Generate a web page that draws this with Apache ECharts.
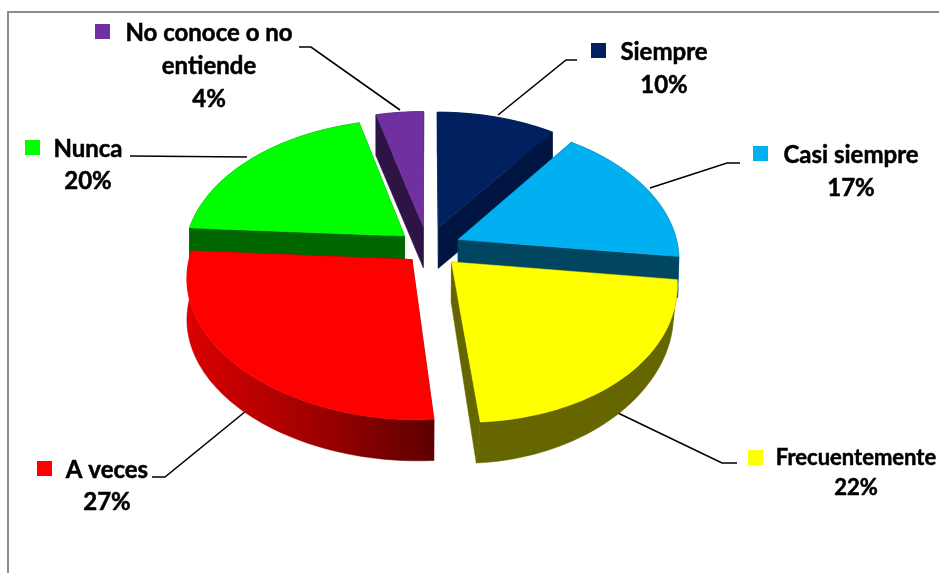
<!DOCTYPE html>
<html><head><meta charset="utf-8">
<style>html,body{margin:0;padding:0;background:#fff}#c{width:939px;height:573px}</style>
<script src="https://cdn.jsdelivr.net/npm/echarts@6/dist/echarts.min.js"></script>
</head><body><div id="c"></div>
<script>
var categories = ['Siempre','Casi siempre','Frecuentemente','A veces','Nunca','No conoce o no entiende'];
var shares = [10,17,22,27,20,4];
var tickLabels = ['10%','17%','22%','27%','20%','4%'];
var topColors = ['#002060','#00B0F0','#FFFF00','#FF0000','#00FF00','#7030A0'];
var wallColors = ['#001541','#004660','#666600',null,'#006600','#2D1445'];
var paintOrder = [5,0,1,4,3,2];

var cx=431, cy=245, Rx=220, Ry=135, persp=7.5, skew=0.03, explode=0.14, depth=41, taper=0.08;
var sliceNudge = [[-2,0],[-1,2],[-1,3],[3,1],[-3,3],[-4,0]];
var labelLayout = [
 {key:[591,43],lines:[['Siempre',664,52],['10%',664,85]],lead:[[577,60],[566,60],[498,115]],fs:24},
 {key:[753,146],lines:[['Casi siempre',851,155],['17%',851,188]],lead:[[740,163],[727,163],[650,188]],fs:24},
 {key:[748,450],lines:[['Frecuentemente',856,458],['22%',856,488]],lead:[[737,463],[722,463],[618,413]],fs:22},
 {key:[37,461],lines:[['A veces',107,470],['27%',107,502]],lead:[[152,477],[165,477],[246,411]],fs:24},
 {key:[25,140],lines:[['Nunca',88,149],['20%',88,181]],lead:[[130,156],[247,157]],fs:24},
 {key:[95,24],lines:[['No conoce o no',209,33],['entiende',209,66],['4%',209,99]],lead:[[299,47],[311,47],[400,110]],fs:24}
];

var total = shares.reduce(function(a,b){return a+b;},0);
var starts = [], acc = 0;
shares.forEach(function(v){starts.push(acc/total*2*Math.PI);acc+=v;});

function project(X,Y,n){
  var s = persp/(persp+Y);
  var lean = Y<0 ? skew*Y*Y : 0;
  return [cx+(X+lean)*Rx*s+n[0], cy-Y*Ry*s+n[1]];
}
function down(p){
  var front = Math.max(0,(p[1]-cy)/175);
  var shift = p[0]>cx ? -(p[0]-cx)*taper*front : 0;
  return [p[0]+shift,p[1]+depth];
}
function sliceGeom(i){
  var a0=starts[i], a1=a0+shares[i]/total*2*Math.PI, m=(a0+a1)/2, nd=sliceNudge[i];
  var ox=explode*Math.sin(m), oy=explode*Math.cos(m);
  var tip=project(ox,oy,nd), arc=[], n=Math.max(8,Math.round(shares[i]*2));
  for(var k=0;k<=n;k++){
    var a=a0+(a1-a0)*k/n;
    arc.push(project(ox+Math.sin(a),oy+Math.cos(a),nd));
  }
  return {tip:tip,arc:arc};
}
function poly(points,fill,z2){
  return {type:'polygon',shape:{points:points},style:{fill:fill,stroke:fill,lineWidth:0.5},z2:z2};
}
function renderSlice(params,api){
  var i=api.value(0), order=api.value(1), g=sliceGeom(i), kids=[];
  var base=order*10+10;
  var wall=wallColors[i];
  if(wall===null){
    wall=new echarts.graphic.LinearGradient(185,0,433,0,[
      {offset:0,color:'#DC0000'},{offset:0.5,color:'#A20000'},{offset:1,color:'#5E0000'}],true);
  }
  var lowArc=g.arc.map(down).reverse();
  kids.push(poly([g.tip,down(g.tip),down(g.arc[0]),g.arc[0]],wall,base));
  kids.push(poly([g.tip,down(g.tip),down(g.arc[g.arc.length-1]),g.arc[g.arc.length-1]],wall,base));
  kids.push(poly(g.arc.concat(lowArc),wall,base+1));
  kids.push(poly([g.tip].concat(g.arc),topColors[i],base+2));
  return {type:'group',children:kids};
}
function renderLabel(params,api){
  var i=api.value(0), L=labelLayout[i], kids=[];
  kids.push({type:'polyline',shape:{points:L.lead},style:{stroke:'#000',lineWidth:1.6,fill:null},z2:1});
  kids.push({type:'rect',shape:{x:L.key[0],y:L.key[1],width:15,height:15},style:{fill:topColors[i]},z2:200});
  L.lines.forEach(function(t){
    kids.push({type:'text',style:{text:t[0],x:t[1],y:t[2],align:'center',verticalAlign:'middle',
      font:'bold '+L.fs+'px Lato',fill:'#000',stroke:'#000',lineWidth:0.5},z2:200});
  });
  return {type:'group',children:kids};
}
var chart=echarts.init(document.getElementById('c'),null,{renderer:'canvas'});
chart.setOption({
  animation:false,
  backgroundColor:'#fff',
  graphic:[{type:'polyline',shape:{points:[[8,573],[8,12],[939,12]]},style:{stroke:'#8C8C8C',lineWidth:2,fill:null},silent:true}],
  series:[
    {type:'custom',coordinateSystem:'none',silent:true,z:1,renderItem:renderLabel,
     data:categories.map(function(c,i){return {name:c,value:[i,shares[i]]};})},
    {type:'custom',coordinateSystem:'none',silent:true,z:2,renderItem:renderSlice,
     data:paintOrder.map(function(i,o){return {name:categories[i],value:[i,o,shares[i]]};})}
  ]
});
</script></body></html>
